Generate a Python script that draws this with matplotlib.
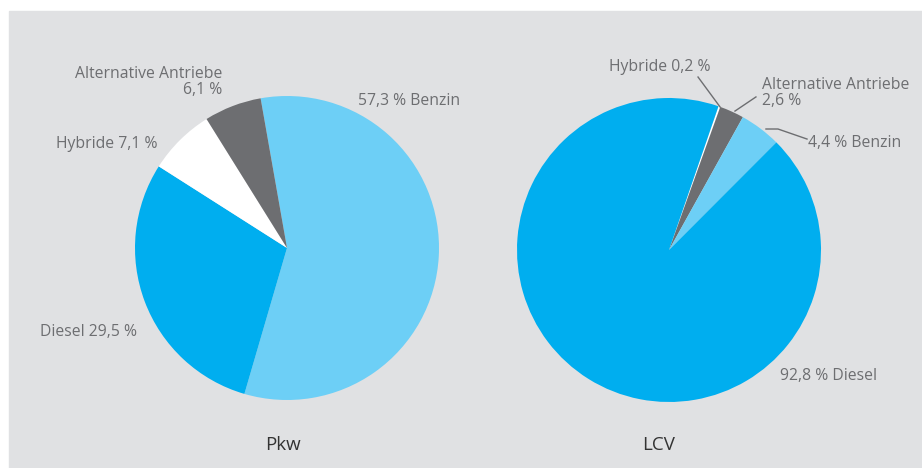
import matplotlib
matplotlib.use("Agg")
from matplotlib import pyplot as plt
from matplotlib.patches import Rectangle

plt.rcParams['font.family'] = ['Open Sans', 'DejaVu Sans']

# data
pkw_labels = ['Benzin', 'Diesel', 'Hybride', 'Alternative Antriebe']
pkw_values = [57.3, 29.5, 7.1, 6.1]
lcv_labels = ['Hybride', 'Alternative Antriebe', 'Benzin', 'Diesel']
lcv_values = [0.2, 2.6, 4.4, 92.8]
titles = ['Pkw', 'LCV']

colors = {'Benzin': '#6dcff6', 'Diesel': '#00aeef',
          'Hybride': '#ffffff', 'Alternative Antriebe': '#6d6e71'}
txt_col = '#6d6e71'


def pct(v):
    return '{:.1f}'.format(v).replace('.', ',') + ' %'


W, H = 922, 468
fig = plt.figure(figsize=(W / 100, H / 100), dpi=100)
fig.patch.set_facecolor('white')
fig.patches.append(Rectangle((9 / W, 0), 1 - 9 / W, (H - 11) / H,
                             transform=fig.transFigure, color='#e0e1e3', zorder=-10))


def make_ax(cx, cy, r=152):
    ax = fig.add_axes([(cx - r) / W, (H - cy - r) / H, 2 * r / W, 2 * r / H])
    ax.axis('off')
    return ax


def fix_limits(ax):
    # pie() resets limits to +-1.25, put them back to the radius
    ax.set_xlim(-1, 1)
    ax.set_ylim(-1, 1)


fs = 11.3
tfs = 13.5

ax1 = make_ax(287, 248)
ax1.pie(pkw_values, colors=[colors[c] for c in pkw_labels], startangle=100,
        counterclock=False, radius=1, wedgeprops=dict(linewidth=0))
fix_limits(ax1)
lab = dict(zip(pkw_labels, pkw_values))
ax1.text(-0.428, 1.095, 'Alternative Antriebe\n' + pct(lab['Alternative Antriebe']),
         ha='right', va='center', multialignment='right', color=txt_col, fontsize=fs,
         linespacing=1.0)
ax1.text(-0.849, 0.684, 'Hybride ' + pct(lab['Hybride']), ha='right', va='center',
         color=txt_col, fontsize=fs)
ax1.text(-0.987, -0.553, 'Diesel ' + pct(lab['Diesel']), ha='right', va='center',
         color=txt_col, fontsize=fs)
ax1.text(0.467, 0.967, pct(lab['Benzin']) + ' Benzin', ha='left', va='center',
         color=txt_col, fontsize=fs)
ax1.text(-0.03, -1.296, titles[0], ha='center', va='center', color='#333333', fontsize=tfs)

ax2 = make_ax(669, 250)
ax2.pie(lcv_values, colors=[colors[c] for c in lcv_labels], startangle=71,
        counterclock=False, radius=1, wedgeprops=dict(linewidth=0))
fix_limits(ax2)
lab = dict(zip(lcv_labels, lcv_values))
ax2.text(-0.395, 1.204, 'Hybride ' + pct(lab['Hybride']), ha='left', va='center',
         color=txt_col, fontsize=fs)
ax2.text(0.612, 1.03, 'Alternative Antriebe\n' + pct(lab['Alternative Antriebe']),
         ha='left', va='center', multialignment='left', color=txt_col, fontsize=fs,
         linespacing=1.0)
ax2.text(0.914, 0.704, pct(lab['Benzin']) + ' Benzin', ha='left', va='center',
         color=txt_col, fontsize=fs)
ax2.text(0.73, -0.829, pct(lab['Diesel']) + ' Diesel', ha='left', va='center',
         color=txt_col, fontsize=fs)
ax2.text(-0.07, -1.283, titles[1], ha='center', va='center', color='#333333', fontsize=tfs)

# leader lines
ax2.plot([0.191, 0.336], [1.138, 0.941], color=txt_col, lw=1, clip_on=False)
ax2.plot([0.572, 0.434], [1.007, 0.914], color=txt_col, lw=1, clip_on=False)
ax2.plot([0.638, 0.717, 0.908], [0.796, 0.796, 0.730], color=txt_col, lw=1, clip_on=False)

fig.savefig('out.png', dpi=100)
